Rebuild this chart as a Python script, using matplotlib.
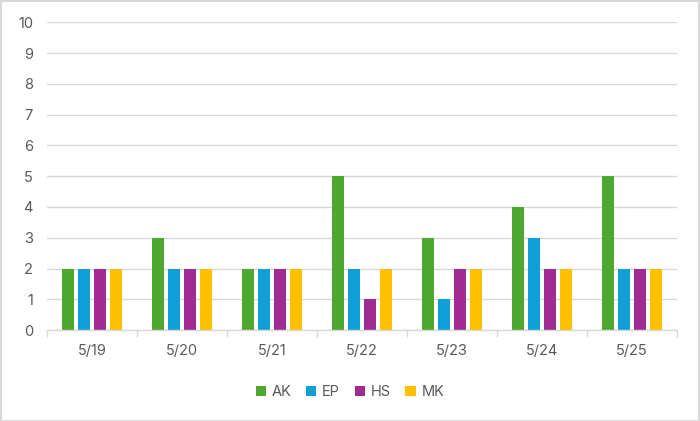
import numpy as np
from matplotlib import pyplot as plt
from matplotlib.patches import Rectangle

dates = ['5/19', '5/20', '5/21', '5/22', '5/23', '5/24', '5/25']
ak = [2, 3, 2, 5, 3, 4, 5]
ep = [2, 2, 2, 2, 1, 3, 2]
hs = [2, 2, 2, 1, 2, 2, 2]
mk = [2, 2, 2, 2, 2, 2, 2]

series = [('AK', ak, '#4EA72E'), ('EP', ep, '#0F9ED5'),
          ('HS', hs, '#A02B93'), ('MK', mk, '#FFC000')]

plt.rcParams['font.family'] = ['Inter', 'DejaVu Sans']
text_color = '#595959'
grid_color = '#D9D9D9'

fig = plt.figure(figsize=(7, 4.21), dpi=100)
ax = fig.add_axes([0.067, 0.216, 0.90, 0.731])

x = np.arange(len(dates))
width = 0.139
step = 0.178
for i, (name, vals, col) in enumerate(series):
    ax.bar(x + (i - 1.5) * step, vals, width, color=col, label=name, zorder=2)

ax.set_xlim(-0.5, len(dates) - 0.5)
ax.set_ylim(0, 10)
ax.set_yticks(range(0, 11))
ax.yaxis.grid(True, color=grid_color, linewidth=1, zorder=0)
ax.set_xticks(x)
ax.set_xticklabels(dates)
ax.set_xticks(np.arange(-0.5, len(dates)), minor=True)
ax.tick_params(axis='x', which='major', length=0, pad=10, labelsize=10.5, colors=text_color)
ax.tick_params(axis='x', which='minor', length=5, color=grid_color, width=1)
ax.tick_params(axis='y', length=0, pad=10, labelsize=10.5, colors=text_color)
for s in ['top', 'right', 'left']:
    ax.spines[s].set_visible(False)
ax.spines['bottom'].set_color(grid_color)
ax.spines['bottom'].set_linewidth(1)

leg = fig.legend(loc='center', bbox_to_anchor=(0.5, 0.069), ncol=4, frameon=False,
                 handlelength=0.7, handleheight=0.7, handletextpad=0.4,
                 columnspacing=1.0, fontsize=10.5)
for t in leg.get_texts():
    t.set_color(text_color)

fig.patches.append(Rectangle((0.001, 0.001), 0.998, 0.997, transform=fig.transFigure,
                             fill=False, edgecolor=grid_color, linewidth=1.5))

fig.savefig('out.png', dpi=100)
